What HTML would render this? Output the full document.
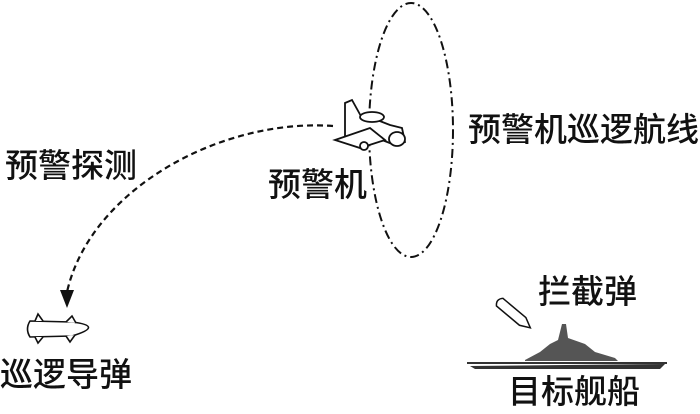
<!DOCTYPE html>
<html><head><meta charset="utf-8"><style>
body{margin:0;width:700px;height:409px;background:#fff;overflow:hidden}
svg text{font-family:"Liberation Sans","Noto Sans CJK SC",sans-serif;font-size:33px;fill:#111;font-weight:500}
</style></head><body>
<svg width="700" height="409" viewBox="0 0 700 409" xmlns="http://www.w3.org/2000/svg">
<ellipse cx="411" cy="130" rx="42" ry="127" fill="none" stroke="#111" stroke-width="2" stroke-dasharray="9,4,2,4"/>
<path d="M333,126 C220,118 90,190 67,292" fill="none" stroke="#111" stroke-width="2.2" stroke-dasharray="6,4"/>
<polygon points="60,290 74,290 67,308" fill="#111"/>
<!-- plane -->
<g fill="#fff" stroke="#111" stroke-width="1.8">
<path d="M345,103 L352,100 L362,118 L372,118 L390,125 L402,128 L405,142 L395,145 L382,140 L368,142 L345,138 Z"/>
<path d="M335,140 L370,128 L385,140 L360,148 Z"/>
<ellipse cx="372" cy="117" rx="12" ry="5"/>
<ellipse cx="397" cy="139" rx="8" ry="7"/>
<ellipse cx="364" cy="146" rx="4" ry="4"/>
</g>
<!-- cruise missile -->
<g fill="#fff" stroke="#111" stroke-width="1.6">
<path d="M30,321 L72,322 Q105,326 72,336 L30,337 Q25,329 30,321 Z"/>
<path d="M35,321 L38,314 L43,321"/><path d="M66,322 L72,316 L76,323"/>
<path d="M35,337 L38,343 L43,337"/><path d="M66,336 L70,342 L75,335"/>
</g>
<!-- interceptor -->
<g fill="#fff" stroke="#111" stroke-width="1.5" transform="rotate(40 515 315)">
<path d="M495,310 L525,310 L535,315 L525,320 L495,320 Q490,315 495,310 Z"/>
</g>
<!-- ship -->
<g fill="#333">
<rect x="467" y="362" width="200" height="2"/>
<path d="M470,366 L665,364 L660,369 L475,369 Z"/>
<path d="M525,360 L540,352 L550,344 L558,340 L562,324 L566,324 L568,338 L585,344 L595,352 L615,358 L618,361 L525,361 Z" fill="#555"/>
</g>
<text x="5" y="177">预警探测</text>
<text x="268" y="196">预警机</text>
<text x="468" y="141">预警机巡逻航线</text>
<text x="538" y="303">拦截弹</text>
<text x="0" y="386">巡逻导弹</text>
<text x="508" y="403">目标舰船</text>
</svg>
</body></html>
